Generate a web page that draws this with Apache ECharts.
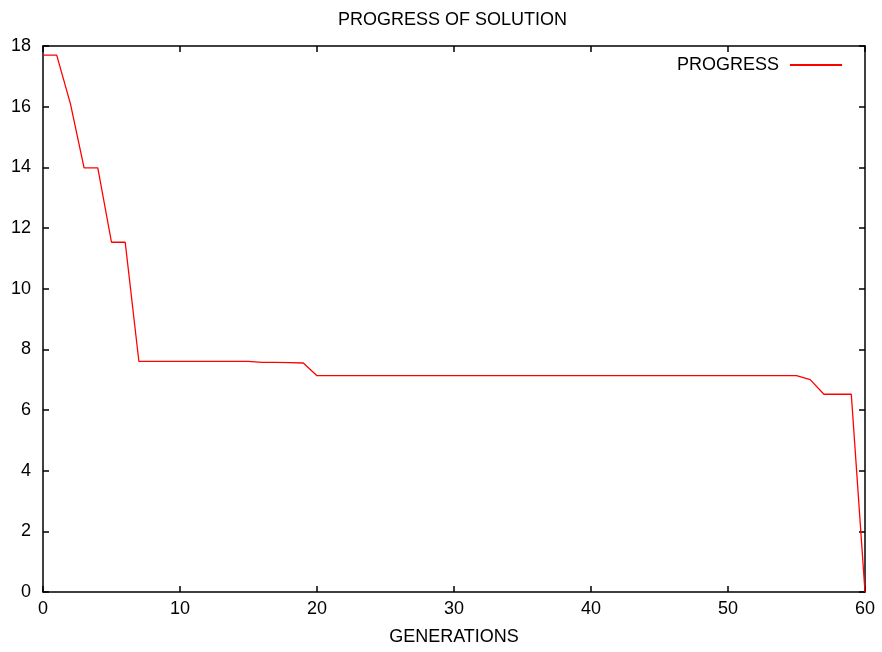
<!DOCTYPE html>
<html>
<head>
<meta charset="utf-8">
<script src="https://cdn.jsdelivr.net/npm/echarts@6/dist/echarts.min.js"></script>
<style>
  html, body { margin: 0; padding: 0; background: #fff; }
  #main { width: 882px; height: 652px; }
</style>
</head>
<body>
<div id="main"></div>
<script>
// progress per generation
const generations = [];
for (let g = 0; g <= 60; g++) generations.push(g);
const progress = [
  17.70, 17.70, 16.10, 13.98, 13.98, 11.53, 11.53, 7.60, 7.60, 7.60,
  7.60, 7.60, 7.60, 7.60, 7.60, 7.60, 7.57, 7.57, 7.56, 7.55,
  7.13, 7.13, 7.13, 7.13, 7.13, 7.13, 7.13, 7.13, 7.13, 7.13,
  7.13, 7.13, 7.13, 7.13, 7.13, 7.13, 7.13, 7.13, 7.13, 7.13,
  7.13, 7.13, 7.13, 7.13, 7.13, 7.13, 7.13, 7.13, 7.13, 7.13,
  7.13, 7.13, 7.13, 7.13, 7.13, 7.13, 7.00, 6.52, 6.52, 6.52,
  0.00
];

const font = 'Liberation Sans, Arial, sans-serif';
const chart = echarts.init(document.getElementById('main'), null, { renderer: 'canvas' });

const axisLine = { show: true, onZero: false, lineStyle: { color: '#000', width: 1.5 } };
const tick = { show: true, inside: true, length: 6, lineStyle: { color: '#000', width: 1.5 } };

const option = {
  animation: false,
  backgroundColor: '#fff',
  title: {
    text: 'PROGRESS OF SOLUTION',
    left: 333,
    top: 6,
    textStyle: { fontFamily: font, fontSize: 18, fontWeight: 'normal', color: '#000' }
  },
  legend: {
    data: ['PROGRESS'],
    right: 35,
    top: 51,
    align: 'right',
    itemWidth: 52,
    itemHeight: 2,
    itemGap: 10,
    icon: 'rect',
    textStyle: { fontFamily: font, fontSize: 18, color: '#000', padding: [0, 6, 0, 0] }
  },
  grid: { left: 43, right: 17, top: 46, bottom: 60, containLabel: false, outerBoundsMode: 'none' },
  xAxis: [{
    type: 'value',
    min: 0, max: 60, interval: 10,
    name: 'GENERATIONS',
    nameLocation: 'middle',
    nameGap: 36,
    nameTextStyle: { fontFamily: font, fontSize: 18, color: '#000' },
    axisLine: axisLine,
    axisTick: tick,
    axisLabel: { fontFamily: font, fontSize: 18, color: '#000', margin: 8 },
    splitLine: { show: false }
  }, {
    type: 'value',
    position: 'top',
    min: 0, max: 60, interval: 10,
    axisLine: axisLine,
    axisTick: tick,
    axisLabel: { show: false },
    splitLine: { show: false }
  }],
  yAxis: [{
    type: 'value',
    min: 0, max: 18, interval: 2,
    axisLine: axisLine,
    axisTick: tick,
    axisLabel: { fontFamily: font, fontSize: 18, color: '#000', margin: 12 },
    splitLine: { show: false }
  }, {
    type: 'value',
    position: 'right',
    min: 0, max: 18, interval: 2,
    axisLine: axisLine,
    axisTick: tick,
    axisLabel: { show: false },
    splitLine: { show: false }
  }],
  series: [{
    name: 'PROGRESS',
    type: 'line',
    data: generations.map((g, i) => [g, progress[i]]),
    showSymbol: false,
    symbol: 'none',
    lineStyle: { color: '#ff0000', width: 1.3 },
    itemStyle: { color: '#ff0000' }
  }]
};

chart.setOption(option);
</script>
</body>
</html>
